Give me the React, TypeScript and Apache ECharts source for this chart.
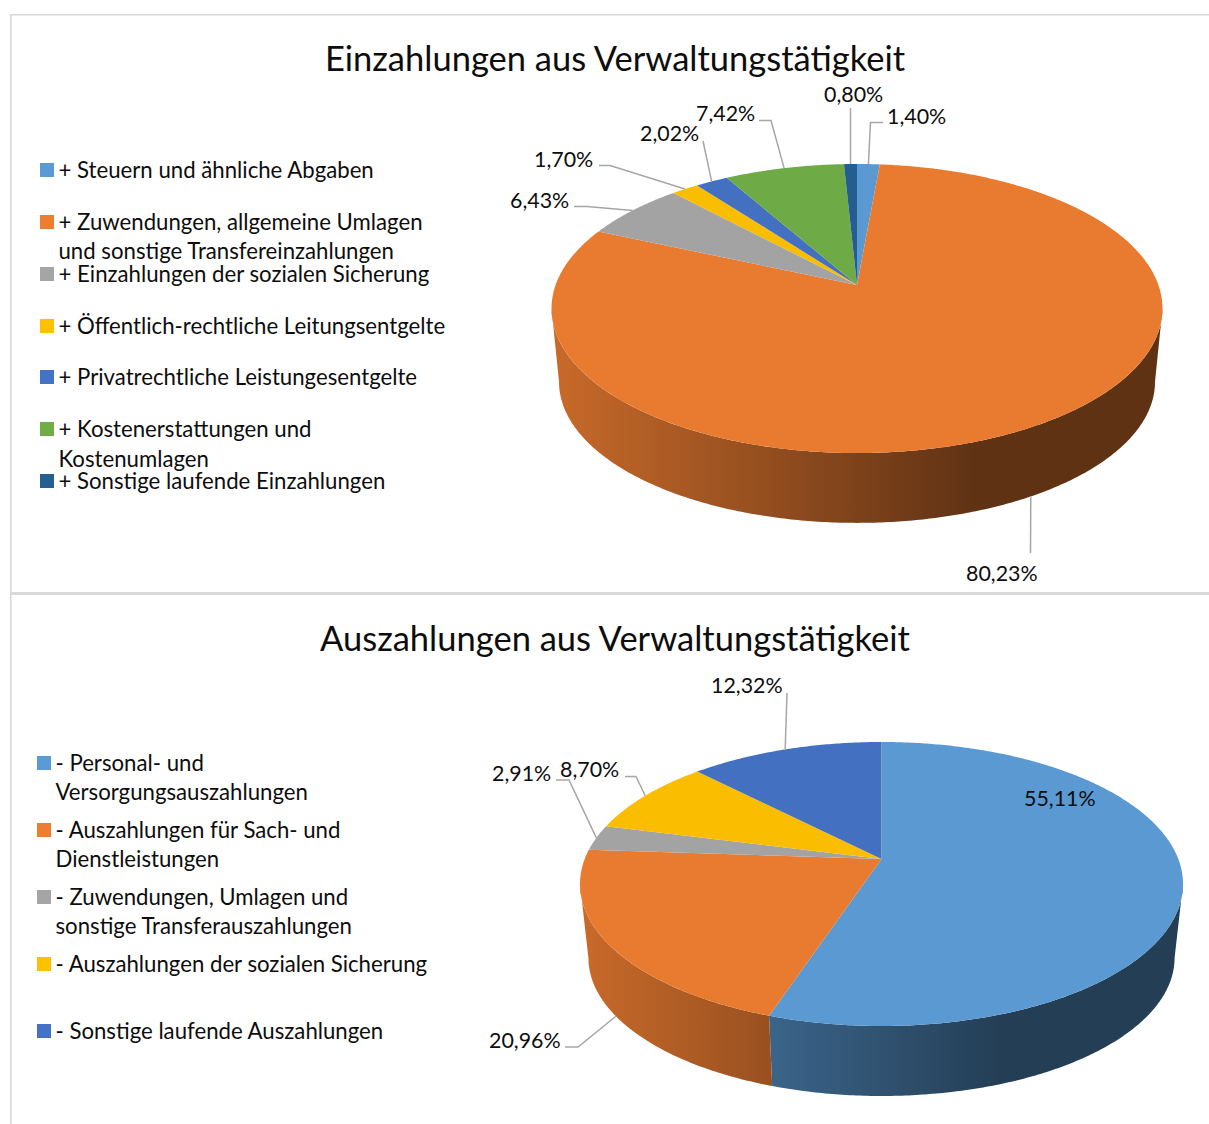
import React, { useEffect, useRef } from "react";
import * as echarts from "echarts";

const FONT = "Lato";
const TEXT = "#0d0d0d";
const LEADER = "#a6a6a6";
const FRAME = "#d9d9d9";
const COLORS_A = ["#5B9BD5", "#ED7D31", "#A5A5A5", "#FFC000", "#4472C4", "#70AD47", "#255E91"];
const COLORS_B = ["#5B9BD5", "#ED7D31", "#A5A5A5", "#FFC000", "#4472C4"];

const titleA = "Einzahlungen aus Verwaltungstätigkeit";
const titleB = "Auszahlungen aus Verwaltungstätigkeit";

const categoriesA = [
  "+ Steuern und ähnliche Abgaben",
  "+ Zuwendungen, allgemeine Umlagen\nund sonstige Transfereinzahlungen",
  "+ Einzahlungen der sozialen Sicherung",
  "+ Öffentlich-rechtliche Leitungsentgelte",
  "+ Privatrechtliche Leistungesentgelte",
  "+ Kostenerstattungen und\nKostenumlagen",
  "+ Sonstige laufende Einzahlungen",
];
const valuesA = [1.4, 80.23, 6.43, 1.7, 2.02, 7.42, 0.8];

const categoriesB = [
  "- Personal- und\nVersorgungsauszahlungen",
  "- Auszahlungen für Sach- und\nDienstleistungen",
  "- Zuwendungen, Umlagen und\nsonstige Transferauszahlungen",
  "- Auszahlungen der sozialen Sicherung",
  "- Sonstige laufende Auszahlungen",
];
const valuesB = [55.11, 20.96, 2.91, 8.7, 12.32];

// layout only below
const legendYA = [170, 222, 274, 326, 377, 429, 481];
const legendYB = [763, 830, 897, 964, 1031];
const lineGapA = [29, 29, 29, 29, 29, 30, 29];
const lineGapB = [29, 29, 29, 29, 29];

const geomA = { cx: 857, cy: 285, a: 301.4, b: 140.7, k: 0.1628, cy2: 359, a2: 294, b2: 137.2, left: 551, right: 1162 };
const geomB = { cx: 881.5, cy: 859, a: 296.8, b: 137.6, k: 0.176, cy2: 933.6, a2: 288.5, b2: 133.8, left: 580, right: 1183 };

type Lbl = { x: number; y: number; path: number[][]; rim: "top" | "bottom" | null };
const labelsA: Lbl[] = [
  { x: 887, y: 116, path: [[883, 122.5], [870.5, 122.5]], rim: "top" },
  { x: 966, y: 573, path: [[1030.5, 553]], rim: "bottom" },
  { x: 510, y: 200, path: [[574, 206.5], [587, 206.5]], rim: "top" },
  { x: 534, y: 159, path: [[599, 165.5], [610, 165.5]], rim: "top" },
  { x: 640, y: 133, path: [[703, 141]], rim: "top" },
  { x: 696, y: 113, path: [[759, 120.5], [771, 120.5]], rim: "top" },
  { x: 824, y: 94, path: [[850.5, 108]], rim: "top" },
];
const labelsB: Lbl[] = [
  { x: 1024, y: 798, path: [], rim: null },
  { x: 489, y: 1040, path: [[565, 1047], [578, 1047]], rim: "bottom" },
  { x: 492, y: 773, path: [[556, 780], [569, 780]], rim: "top" },
  { x: 560, y: 769, path: [[625, 776.5], [636, 776.5]], rim: "top" },
  { x: 711, y: 685, path: [[787, 693]], rim: "top" },
];

function shade(hex: string, f: number) {
  const n = parseInt(hex.slice(1), 16);
  const c = (v: number) => Math.round(v * f);
  return `rgb(${c((n >> 16) & 255)},${c((n >> 8) & 255)},${c(n & 255)})`;
}

function pieSeries(values: number[], categories: string[], colors: string[], g: typeof geomA, labels: Lbl[]) {
  const starts: number[] = [];
  values.reduce((s, v, i) => ((starts[i] = s), s + v), 0);
  const total = values.reduce((s, v) => s + v, 0);
  const top = (t: number) => {
    const w = 1 + g.k * Math.cos(t);
    return [g.cx + (g.a * Math.sin(t)) / w, g.cy - (g.b * Math.cos(t)) / w];
  };
  const bot = (t: number) => {
    const w = 1 + g.k * Math.cos(t);
    return [g.cx + (g.a2 * Math.sin(t)) / w, g.cy2 - (g.b2 * Math.cos(t)) / w];
  };
  const arc = (fn: (t: number) => number[], a: number, b: number) => {
    const n = Math.max(2, Math.ceil(Math.abs(b - a) / 0.01));
    const pts: number[][] = [];
    for (let i = 0; i <= n; i++) pts.push(fn(a + ((b - a) * i) / n));
    return pts;
  };
  const visFrom = Math.acos(-g.k);
  const visTo = 2 * Math.PI - visFrom;
  return {
    type: "custom",
    coordinateSystem: "none",
    silent: true,
    animation: false,
    data: values.map((v, i) => ({ name: categories[i], value: [v] })),
    renderItem: (params: any, api: any) => {
      const i = params.dataIndex;
      const v = api.value(0);
      const a0 = (starts[i] / total) * 2 * Math.PI;
      const a1 = ((starts[i] + v) / total) * 2 * Math.PI;
      const mid = (a0 + a1) / 2;
      const children: any[] = [];
      const from = Math.max(a0, visFrom);
      const to = Math.min(a1, visTo);
      if (to > from) {
        const fill = new echarts.graphic.LinearGradient(
          g.left, 0, g.right, 0,
          [
            { offset: 0, color: shade(colors[i], 0.85) },
            { offset: 0.7, color: shade(colors[i], 0.4) },
            { offset: 1, color: shade(colors[i], 0.4) },
          ],
          true
        );
        children.push({
          type: "polygon",
          shape: { points: [...arc(top, from, to), ...arc(bot, to, from)] },
          style: { fill },
        });
      }
      children.push({
        type: "polygon",
        shape: { points: [[g.cx, g.cy], ...arc(top, a0, a1)] },
        style: { fill: shade(colors[i], 0.985) },
      });
      const lb = labels[i];
      if (lb.rim) {
        const end = lb.rim === "top" ? top(mid) : bot(mid);
        children.push({
          type: "polyline",
          shape: { points: [...lb.path, end] },
          style: { stroke: LEADER, lineWidth: 1.5, fill: null },
        });
      }
      children.push({
        type: "text",
        style: {
          x: lb.x,
          y: lb.y,
          text: v.toFixed(2).replace(".", ",") + "%",
          fontFamily: FONT,
          fontSize: 21.4,
          fill: TEXT,
          align: "left",
          verticalAlign: "middle",
        },
      });
      return { type: "group", children };
    },
  };
}

function legendGraphics(categories: string[], colors: string[], ys: number[], gaps: number[], swatchX: number, textX: number) {
  const out: any[] = [];
  categories.forEach((c, i) => {
    out.push({ type: "rect", shape: { x: swatchX, y: ys[i] - 7, width: 14, height: 14 }, style: { fill: colors[i] } });
    c.split("\n").forEach((line, j) => {
      out.push({
        type: "text",
        style: {
          x: textX - 0.5,
          y: ys[i] - 1 + j * gaps[i],
          text: line,
          fontFamily: FONT,
          fontSize: 22.2,
          fill: TEXT,
          align: "left",
          verticalAlign: "middle",
        },
      });
    });
  });
  return out;
}

export default function App() {
  const ref = useRef<HTMLDivElement>(null);
  useEffect(() => {
    const chart = echarts.init(ref.current!, undefined, { renderer: "svg" });
    chart.setOption({
      animation: false,
      backgroundColor: "#ffffff",
      title: [titleA, titleB].map((t, i) => ({
        text: t,
        left: 615,
        top: i === 0 ? 39.5 : 619.5,
        padding: 0,
        textAlign: "center",
        textStyle: { fontFamily: FONT, fontSize: 34.5, fontWeight: "normal", color: TEXT },
      })),
      graphic: [
        { type: "rect", shape: { x: 10, y: 14, width: 1.6, height: 1110 }, style: { fill: FRAME } },
        { type: "rect", shape: { x: 10, y: 14, width: 1199, height: 1.6 }, style: { fill: FRAME } },
        { type: "rect", shape: { x: 10, y: 592, width: 1199, height: 3 }, style: { fill: FRAME } },
        ...legendGraphics(categoriesA, COLORS_A, legendYA, lineGapA, 40, 59),
        ...legendGraphics(categoriesB, COLORS_B, legendYB, lineGapB, 37, 56),
      ],
      series: [
        pieSeries(valuesA, categoriesA, COLORS_A, geomA, labelsA),
        pieSeries(valuesB, categoriesB, COLORS_B, geomB, labelsB),
      ],
    });
    return () => chart.dispose();
  }, []);
  return <div ref={ref} style={{ position: "absolute", left: 0, top: 0, width: 1209, height: 1124 }} />;
}
